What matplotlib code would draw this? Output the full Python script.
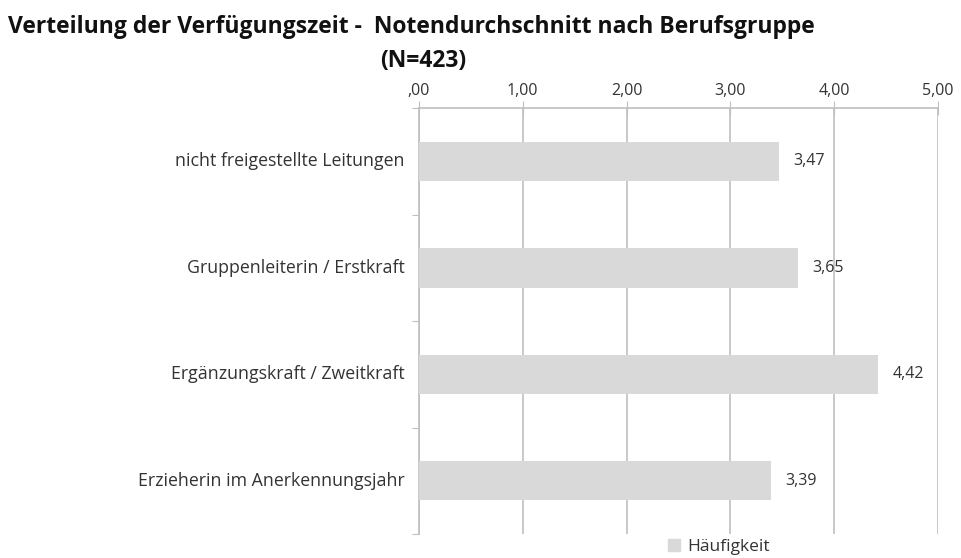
import matplotlib.pyplot as plt
from matplotlib.patches import Patch

plt.rcParams['font.family'] = ['Open Sans', 'DejaVu Sans']

# data
categories = ['nicht freigestellte Leitungen', 'Gruppenleiterin / Erstkraft',
              'Ergänzungskraft / Zweitkraft', 'Erzieherin im Anerkennungsjahr']
values = [3.47, 3.65, 4.42, 3.39]
xticks = [0, 1, 2, 3, 4, 5]
xtick_labels = [',00', '1,00', '2,00', '3,00', '4,00', '5,00']

bar_color = '#d9d9d9'
grid_color = '#bfbfbf'
text_color = '#333333'

fig = plt.figure(figsize=(9.61, 5.58), dpi=100)
ax = fig.add_axes([0.436, 0.043, 0.54, 0.763])

pos = range(len(categories))
ax.barh(pos, values, height=0.37, color=bar_color, zorder=3)

for p, v in zip(pos, values):
    ax.text(v + 0.14, p, f'{v:.2f}'.replace('.', ','), va='center', ha='left',
            fontsize=11.5, color=text_color, zorder=4)

ax.set_xlim(0, 5)
ax.set_ylim(3.5, -0.5)
ax.set_xticks(xticks)
ax.set_xticklabels(xtick_labels, fontsize=11.5, color=text_color)
ax.xaxis.tick_top()
ax.tick_params(axis='x', direction='inout', length=10, color=grid_color, pad=2)
ax.grid(axis='x', color=grid_color, linewidth=1.2, zorder=0)

# category labels, ticks at category boundaries
ax.set_yticks([-0.5, 0.5, 1.5, 2.5, 3.5])
ax.set_yticklabels([])
ax.tick_params(axis='y', direction='out', length=5, color=grid_color)
for p, c in zip(pos, categories):
    ax.text(-0.14, p, c, ha='right', va='center', fontsize=12.8, color=text_color)

for s in ['right', 'bottom']:
    ax.spines[s].set_visible(False)
for s in ['left', 'top']:
    ax.spines[s].set_color(grid_color)
    ax.spines[s].set_linewidth(1.2)

fig.text(0.008, 0.952, 'Verteilung der Verfügungszeit -  Notendurchschnitt nach Berufsgruppe',
         fontsize=16.5, fontweight='bold', color='#111111', ha='left', va='center')
fig.text(0.44, 0.891, '(N=423)', fontsize=16.5, fontweight='bold', color='#111111',
         ha='center', va='center')

fig.legend(handles=[Patch(color=bar_color, label='Häufigkeit')],
           loc='center', bbox_to_anchor=(0.748, 0.02), frameon=False,
           fontsize=12.5, handlelength=0.7, handleheight=0.7, handletextpad=0.4,
           labelcolor=text_color)

fig.savefig('out.png', dpi=100)
